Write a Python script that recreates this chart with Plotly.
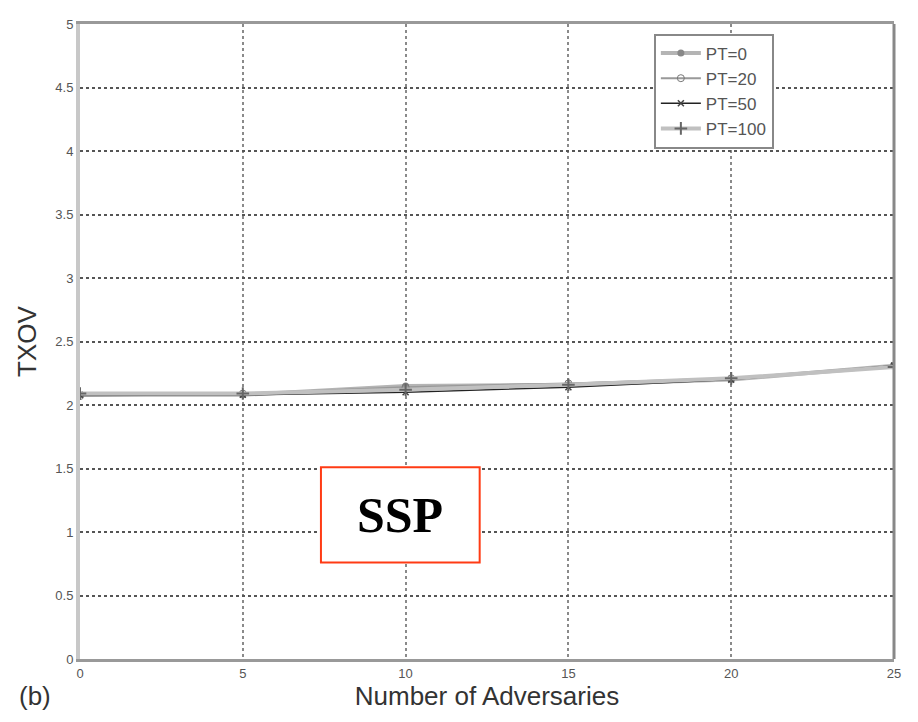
import plotly.graph_objects as go

adversaries = [0, 5, 10, 15, 20, 25]
pt0 = [2.08, 2.08, 2.15, 2.16, 2.20, 2.31]
pt20 = [2.07, 2.09, 2.14, 2.17, 2.21, 2.31]
pt50 = [2.08, 2.08, 2.10, 2.14, 2.20, 2.31]
pt100 = [2.09, 2.09, 2.12, 2.16, 2.21, 2.30]
series_names = ["PT=0", "PT=20", "PT=50", "PT=100"]
x_ticks = [0, 5, 10, 15, 20, 25]
y_ticks = [0, 0.5, 1, 1.5, 2, 2.5, 3, 3.5, 4, 4.5, 5]
y_tick_text = ["0", "0.5", "1", "1.5", "2", "2.5", "3", "3.5", "4", "4.5", "5"]

styles = [
    dict(line=dict(color="#b4b4b4", width=4), marker=dict(symbol="circle", size=7, color="#888888")),
    dict(line=dict(color="#999999", width=2), marker=dict(symbol="circle-open", size=7, color="#777777")),
    dict(line=dict(color="#222222", width=1.5), marker=dict(symbol="x-thin", size=6, color="#444444", line=dict(width=1.5, color="#444444"))),
    dict(line=dict(color="#c0c0c0", width=4), marker=dict(symbol="cross-thin", size=9, color="#666666", line=dict(width=2, color="#666666"))),
]

fig = go.Figure()
for name, vals, st in zip(series_names, [pt0, pt20, pt50, pt100], styles):
    fig.add_trace(go.Scatter(x=adversaries, y=vals, mode="lines+markers", name=name, **st))

fig.update_layout(
    width=902, height=706,
    margin=dict(l=72, r=12, t=9, b=54),
    paper_bgcolor="white", plot_bgcolor="white",
    font=dict(family="Liberation Sans, Arial, sans-serif", color="#555555"),
    showlegend=True,
    legend=dict(
        x=0.705, y=0.985, xanchor="left", yanchor="top",
        bgcolor="white", bordercolor="#888888", borderwidth=2,
        font=dict(size=17, color="#555555"),
        itemwidth=40, tracegroupgap=0, entrywidth=95,
    ),
    xaxis=dict(
        range=[0, 25], tickvals=x_ticks, ticks="",
        showgrid=True, gridcolor="#8a8a8a", gridwidth=2, griddash="dot",
        showline=True, linecolor="#999999", linewidth=3, mirror=True,
        zeroline=False, tickfont=dict(size=13, color="#555555"),
        title=dict(text="Number of Adversaries", font=dict(size=26, color="#333333"), standoff=6),
    ),
    yaxis=dict(
        range=[0, 5], tickvals=y_ticks, ticktext=y_tick_text, ticks="",
        showgrid=True, gridcolor="#555555", gridwidth=2, griddash="dot",
        showline=True, linecolor="#c8c8c8", linewidth=4, mirror=False,
        zeroline=False, tickfont=dict(size=13, color="#555555"),
        title=dict(text="TXOV", font=dict(size=26, color="#333333"), standoff=12),
    ),
)

fig.add_shape(type="line", xref="paper", yref="paper", x0=1, x1=1, y0=0, y1=1,
              line=dict(color="#888888", width=3), layer="above")
fig.add_shape(type="rect", xref="paper", yref="paper",
              x0=0.296, x1=0.491, y0=0.152, y1=0.302,
              line=dict(color="#ff3b14", width=2), fillcolor="white", layer="above")
fig.add_annotation(xref="paper", yref="paper", x=0.3935, y=0.227, xanchor="center", yanchor="middle",
                   text="<b>SSP</b>", showarrow=False,
                   font=dict(family="Liberation Serif, Times New Roman, serif", size=50, color="black"))
fig.add_annotation(xref="paper", yref="paper", x=-0.055, y=-0.0575, xanchor="center", yanchor="middle",
                   text="(b)", showarrow=False, font=dict(size=26, color="#333333"))

fig.write_html("out.html")
